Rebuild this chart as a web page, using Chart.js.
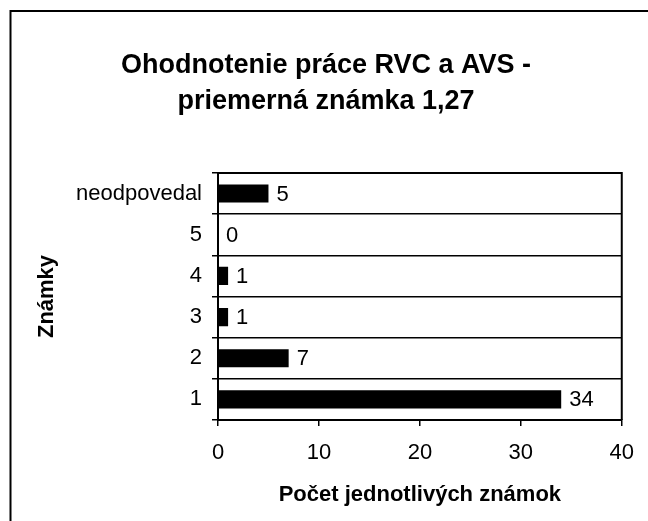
<!DOCTYPE html>
<html>
<head>
<meta charset="utf-8">
<script src="https://cdn.jsdelivr.net/npm/chart.js@4"></script>
<style>
  body { margin: 0; background: #fff; }
  canvas { display: block; }
</style>
</head>
<body>
<canvas id="barChart" width="648" height="521"></canvas>
<script>
const categories = ['neodpovedal', '5', '4', '3', '2', '1'];
const counts = [5, 0, 1, 1, 7, 34];
const xTicks = [0, 10, 20, 30, 40];

const font = 'Arial, "Liberation Sans", sans-serif';

// white background, outer frame and value labels next to the bars
const extras = {
    id: 'extras',
    beforeDraw(chart) {
        const c = chart.ctx;
        c.save();
        c.fillStyle = '#fff';
        c.fillRect(0, 0, chart.width, chart.height);
        c.strokeStyle = '#000';
        c.lineWidth = 2;
        c.beginPath();
        c.moveTo(10.5, chart.height);
        c.lineTo(10.5, 11);
        c.lineTo(chart.width, 11);
        c.stroke();
        c.restore();
    },
    afterDatasetsDraw(chart) {
        const c = chart.ctx;
        const area = chart.chartArea;
        c.save();
        c.strokeStyle = '#000';
        c.lineWidth = 2;
        c.beginPath();
        c.moveTo(area.left, area.top);
        c.lineTo(area.right, area.top);
        c.lineTo(area.right, area.bottom);
        c.stroke();

        c.fillStyle = '#000';
        c.font = '22px ' + font;
        c.textBaseline = 'middle';
        c.textAlign = 'left';
        chart.getDatasetMeta(0).data.forEach((bar, i) => {
            c.fillText(String(counts[i]), bar.x + 8, bar.y + 1);
        });
        c.restore();
    }
};

new Chart(document.getElementById('barChart'), {
    type: 'bar',
    data: {
        labels: categories,
        datasets: [{
            data: counts,
            backgroundColor: '#000',
            borderWidth: 0,
            categoryPercentage: 1,
            barPercentage: 0.44
        }]
    },
    options: {
        indexAxis: 'y',
        responsive: false,
        animation: false,
        devicePixelRatio: 1,
        layout: {
            padding: { left: 30, right: 26, top: 0, bottom: 0 }
        },
        plugins: {
            legend: { display: false },
            tooltip: { enabled: false },
            title: {
                display: true,
                text: ['Ohodnotenie práce RVC a AVS -', 'priemerná známka 1,27'],
                color: '#000',
                font: { family: font, size: 27, weight: 'bold', lineHeight: 1.333 },
                padding: { top: 48, bottom: 53 }
            }
        },
        scales: {
            x: {
                min: 0,
                max: 40,
                afterBuildTicks(scale) {
                    scale.ticks = xTicks.map(v => ({ value: v }));
                },
                afterFit(scale) {
                    scale.height = 101;
                },
                grid: {
                    drawOnChartArea: false,
                    drawTicks: true,
                    tickLength: 6,
                    color: '#000',
                    lineWidth: 1.5
                },
                border: { color: '#000', width: 2 },
                ticks: {
                    color: '#000',
                    padding: 14,
                    font: { family: font, size: 22 }
                },
                title: {
                    display: true,
                    text: 'Počet jednotlivých známok',
                    color: '#000',
                    font: { family: font, size: 22, weight: 'bold' },
                    padding: { top: 0, bottom: 13 }
                }
            },
            y: {
                afterFit(scale) {
                    scale.width = 188;
                },
                grid: {
                    color: '#000',
                    lineWidth: 1.5,
                    tickLength: 6
                },
                border: { color: '#000', width: 2 },
                ticks: {
                    color: '#000',
                    padding: 10,
                    font: { family: font, size: 22 }
                },
                title: {
                    display: true,
                    text: 'Známky',
                    color: '#000',
                    font: { family: font, size: 22, weight: 'bold' },
                    padding: { top: 4, bottom: 0 }
                }
            }
        }
    },
    plugins: [extras]
});
</script>
</body>
</html>
